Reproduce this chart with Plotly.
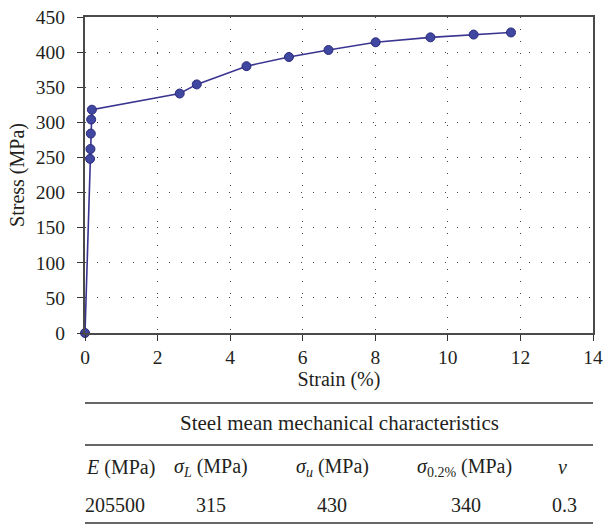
import plotly.graph_objects as go

# Tensile test curve of the steel
strain = [0, 0.14, 0.15, 0.16, 0.17, 0.19, 2.61, 3.08, 4.45, 5.62, 6.71, 8.01, 9.52, 10.71, 11.74]
stress = [0, 248, 262, 284, 304, 318, 341, 354, 380, 393, 403, 414, 421, 425, 428]

x_ticks = [0, 2, 4, 6, 8, 10, 12, 14]
y_ticks = [0, 50, 100, 150, 200, 250, 300, 350, 400, 450]

# Summary table under the chart
table_title = "Steel mean mechanical characteristics"
table_headers = ["<i>E</i> (MPa)", "<i>σ</i><sub><i>L</i></sub> (MPa)", "<i>σ</i><sub><i>u</i></sub> (MPa)",
                 "<i>σ</i><sub>0.2%</sub> (MPa)", "<i>ν</i>"]
table_values = ["205500", "315", "430", "340", "0.3"]

W, H = 603, 524
L, R, T, B = 85, 10, 17, 191
pw, ph = W - L - R, H - T - B


def px(x):
    return (x - L) / pw


def py(y):
    return (H - B - y) / ph


FONT = "Liberation Serif, DejaVu Serif, serif"
TXT = "#231f20"

fig = go.Figure()
fig.add_trace(go.Scatter(
    x=strain, y=stress, mode="lines+markers",
    line=dict(color="#3a3590", width=1.6),
    marker=dict(size=9, color="#4047a0", line=dict(color="#2b2a7c", width=1)),
    showlegend=False, cliponaxis=False,
))

axis_common = dict(
    showline=True, linecolor="#4a4a4a", linewidth=2, mirror=True,
    ticks="outside", ticklen=6, tickcolor="#333333", tickwidth=1.2,
    showgrid=True, gridcolor="#444444", gridwidth=1, griddash="1px,11px",
    zeroline=False, automargin=False,
    tickfont=dict(family=FONT, size=19.5, color=TXT),
    title_font=dict(family=FONT, size=20, color=TXT),
)

fig.update_xaxes(range=[0, 14], tickvals=x_ticks, title_text="Strain (%)",
                 title_standoff=2, ticklabelstandoff=0, **axis_common)
fig.update_yaxes(range=[0, 450], tickvals=y_ticks, title_text="Stress (MPa)",
                 title_standoff=6, ticklabelstandoff=8, **axis_common)

# Table rules
for yrule, w in [(403, 1.6), (445, 1.4), (523, 1.4)]:
    fig.add_shape(type="line", xref="paper", yref="paper",
                  x0=px(85), x1=px(593), y0=py(yrule), y1=py(yrule),
                  line=dict(color="#333333", width=w))


def table_text(text, x, y, size=20):
    fig.add_annotation(text=text, xref="paper", yref="paper", x=px(x), y=py(y),
                       xanchor="center", yanchor="middle", showarrow=False,
                       font=dict(family=FONT, size=size, color=TXT))


table_title_size = 21
table_text(table_title, 339, 423, table_title_size)

header_x = [120, 211, 332, 464, 562]
value_x = [115, 211, 332, 466, 564]
for hx, h in zip(header_x, table_headers):
    table_text(h, hx, 467)
for vx, v in zip(value_x, table_values):
    table_text(v, vx, 505)

fig.update_layout(
    width=W, height=H, margin=dict(l=L, r=R, t=T, b=B),
    paper_bgcolor="white", plot_bgcolor="white",
    font=dict(family=FONT, color=TXT),
)

fig.write_html("out.html")
